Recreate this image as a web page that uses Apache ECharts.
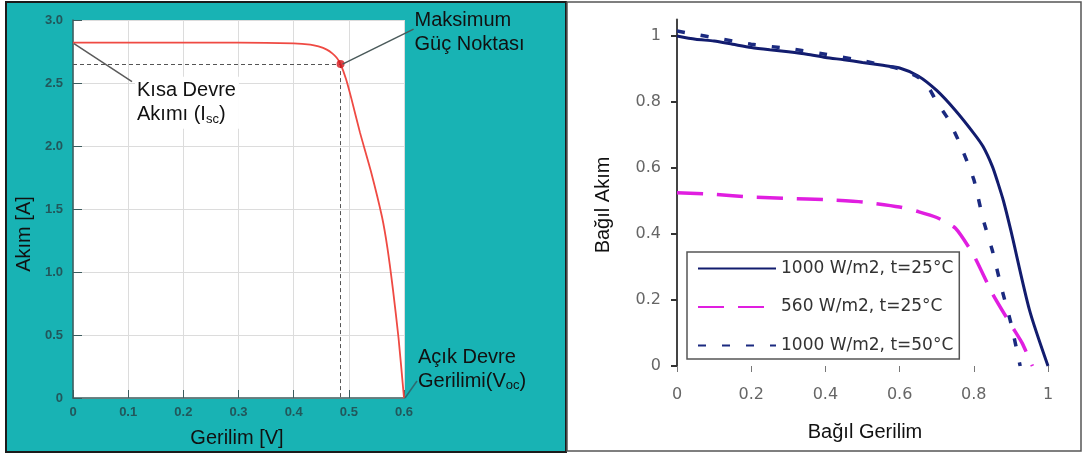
<!DOCTYPE html>
<html>
<head>
<meta charset="utf-8">
<script src="https://cdn.jsdelivr.net/npm/echarts@6/dist/echarts.min.js"></script>
<style>
  html, body { margin: 0; padding: 0; background: #fff; }
  #chart { width: 1083px; height: 455px; }
</style>
</head>
<body>
<div id="chart"></div>
<script>
// left panel: I-V curve of a single cell
const ivVoltage = [0, 0.1, 0.2, 0.3, 0.4, 0.43, 0.445, 0.46, 0.47, 0.478, 0.485, 0.495, 0.505, 0.52, 0.54, 0.56, 0.57, 0.58, 0.59, 0.6];
const ivCurrent = [2.82, 2.82, 2.82, 2.82, 2.815, 2.805, 2.79, 2.765, 2.735, 2.7, 2.65, 2.53, 2.37, 2.11, 1.8, 1.44, 1.19, 0.86, 0.48, 0];
const mppPoint = [0.485, 2.65];
const iscPoint = [0, 2.82];
const vocPoint = [0.6, 0];

// right panel: relative curves
const legendNames = ['1000 W/m2, t=25°C', '560 W/m2, t=25°C', '1000 W/m2, t=50°C'];
const relTicks = [0, 0.2, 0.4, 0.6, 0.8, 1];
const relV_1000_25 = [0, 0.05, 0.1, 0.15, 0.2, 0.25, 0.3, 0.35, 0.4, 0.45, 0.5, 0.55, 0.6, 0.65, 0.7, 0.75, 0.8, 0.825, 0.85, 0.865, 0.88, 0.9, 0.95, 1.0];
const relI_1000_25 = [1.0, 0.99, 0.985, 0.975, 0.965, 0.958, 0.952, 0.945, 0.935, 0.928, 0.92, 0.912, 0.903, 0.879, 0.835, 0.775, 0.705, 0.665, 0.605, 0.555, 0.5, 0.41, 0.17, 0];
const relV_560_25 = [0, 0.1, 0.2, 0.3, 0.4, 0.5, 0.6, 0.65, 0.7, 0.75, 0.8, 0.85, 0.9, 0.93, 0.958];
const relI_560_25 = [0.525, 0.52, 0.512, 0.508, 0.504, 0.497, 0.482, 0.468, 0.45, 0.418, 0.335, 0.22, 0.125, 0.07, 0];
const relV_1000_50 = [0, 0.05, 0.1, 0.15, 0.2, 0.3, 0.4, 0.5, 0.6, 0.65, 0.68, 0.7, 0.73, 0.76, 0.8, 0.825, 0.85, 0.875, 0.9, 0.925];
const relI_1000_50 = [1.015, 1.005, 0.995, 0.985, 0.975, 0.962, 0.945, 0.925, 0.9, 0.875, 0.84, 0.8, 0.75, 0.68, 0.565, 0.445, 0.35, 0.235, 0.13, 0];

function zip(xs, ys) {
  return xs.map((x, i) => [x, ys[i]]);
}

const teal = '#18b3b4';
const tickText = '#22575b';

const chart = echarts.init(document.getElementById('chart'));

const option = {
  animation: false,
  grid: [
    { left: 73, top: 20, width: 331, height: 378, show: true, backgroundColor: '#fff', borderWidth: 0 },
    { left: 677, top: 19.5, width: 371, height: 346.5, show: false }
  ],
  xAxis: [
    {
      gridIndex: 0, type: 'value', min: 0, max: 0.6, interval: 0.1,
      axisLine: { show: true, lineStyle: { color: '#3d5c5e', width: 1.5 } },
      axisTick: { show: true, inside: true, length: 8, lineStyle: { color: '#3d5c5e' } },
      splitLine: { show: true, lineStyle: { color: '#dcdcdc' } },
      axisLabel: {
        margin: 8, color: tickText, fontSize: 13, fontWeight: 'bold', fontFamily: 'Liberation Sans',
        formatter: v => (v === 0 ? '0' : v.toFixed(1))
      }
    },
    {
      gridIndex: 1, type: 'value', min: 0, max: 1, interval: 0.2,
      axisLine: { show: false },
      axisTick: { show: true, length: 6, lineStyle: { color: '#777' } },
      splitLine: { show: false },
      axisLabel: {
        margin: 21, color: '#666', fontSize: 16, fontFamily: 'DejaVu Sans',
        formatter: v => (v === 0 || v === 1 ? String(v) : v.toFixed(1))
      }
    }
  ],
  yAxis: [
    {
      gridIndex: 0, type: 'value', min: 0, max: 3, interval: 0.5,
      axisLine: { show: true, lineStyle: { color: '#3d5c5e', width: 1.5 } },
      axisTick: { show: true, inside: true, length: 9, lineStyle: { color: '#3d5c5e' } },
      splitLine: { show: true, lineStyle: { color: '#dcdcdc' } },
      axisLabel: {
        margin: 10, color: tickText, fontSize: 13, fontWeight: 'bold', fontFamily: 'Liberation Sans',
        formatter: v => (v === 0 ? '0' : v.toFixed(1))
      }
    },
    {
      gridIndex: 1, type: 'value', min: 0, max: 1.05,
      axisLine: { show: true, lineStyle: { color: '#444', width: 2 } },
      axisTick: { show: true, length: 6, customValues: relTicks, lineStyle: { color: '#333', width: 2 } },
      splitLine: { show: false },
      axisLabel: {
        margin: 16, color: '#666', fontSize: 16, fontFamily: 'DejaVu Sans', customValues: relTicks,
        formatter: v => (v === 0 || v === 1 ? String(v) : v.toFixed(1))
      }
    }
  ],
  legend: {
    data: legendNames,
    orient: 'vertical',
    left: 687, top: 252,
    padding: [8, 6, 5, 10],
    itemWidth: 78, itemHeight: 18, itemGap: 21.5,
    backgroundColor: '#fff',
    borderColor: '#555', borderWidth: 1.5, borderRadius: 0,
    itemStyle: { opacity: 0 },
    textStyle: { color: '#333', fontSize: 17, fontFamily: 'DejaVu Sans' },
    selectedMode: false
  },
  series: [
    {
      name: 'iv', type: 'line', xAxisIndex: 0, yAxisIndex: 0,
      data: zip(ivVoltage, ivCurrent), showSymbol: false, smooth: 0.2,
      lineStyle: { color: '#ef4a43', width: 1.8 }, z: 3
    },
    {
      name: 'mpp', type: 'scatter', xAxisIndex: 0, yAxisIndex: 0,
      data: [mppPoint], symbolSize: 8, itemStyle: { color: '#d4161b' }, z: 5,
      markLine: {
        silent: true, symbol: 'none', label: { show: false },
        lineStyle: { color: '#555', type: [4, 3], width: 1 },
        data: [
          [{ coord: [0, mppPoint[1]] }, { coord: mppPoint }],
          [{ coord: mppPoint }, { coord: [mppPoint[0], 0] }]
        ]
      }
    },
    {
      name: legendNames[0], type: 'line', xAxisIndex: 1, yAxisIndex: 1,
      data: zip(relV_1000_25, relI_1000_25), showSymbol: false, smooth: 0.25,
      symbol: 'none', lineStyle: { color: '#121c6e', width: 3 }, itemStyle: { color: '#121c6e' }
    },
    {
      name: legendNames[1], type: 'line', xAxisIndex: 1, yAxisIndex: 1,
      data: zip(relV_560_25, relI_560_25), showSymbol: false, smooth: 0.2,
      symbol: 'none', lineStyle: { color: '#e01ee0', width: 3.5, type: [26, 14] }, itemStyle: { color: '#e01ee0' }
    },
    {
      name: legendNames[2], type: 'line', xAxisIndex: 1, yAxisIndex: 1,
      data: zip(relV_1000_50, relI_1000_50), showSymbol: false, smooth: 0.2,
      symbol: 'none', lineStyle: { color: '#1b2a80', width: 3.5, type: [8, 16] }, itemStyle: { color: '#1b2a80' }
    }
  ]
};

chart.setOption(option);

// annotations anchored on data points
const pIsc = chart.convertToPixel({ gridIndex: 0 }, iscPoint);
const pMpp = chart.convertToPixel({ gridIndex: 0 }, mppPoint);
const pVoc = chart.convertToPixel({ gridIndex: 0 }, vocPoint);

const noteFont = { fontSize: 20, fontFamily: 'Liberation Sans', fill: '#111', lineHeight: 24 };
const subRich = { sub: { fontSize: 13, fontFamily: 'Liberation Sans', fill: '#111', padding: [9, 0, 0, 0] } };
const titleFont = { align: 'center', verticalAlign: 'middle', fontSize: 20, fontFamily: 'Liberation Sans', fill: '#111' };

chart.setOption({
  graphic: [
    // panel backgrounds
    { type: 'rect', z: -10, silent: true, shape: { x: 6, y: 2, width: 560, height: 450 },
      style: { fill: teal, stroke: '#1b1b1b', lineWidth: 2 } },
    { type: 'rect', z: -10, silent: true, shape: { x: 567, y: 2, width: 514, height: 449 },
      style: { fill: '#fff', stroke: '#555', lineWidth: 1.5 } },

    // axis titles
    { type: 'text', x: 237, y: 438, silent: true, style: Object.assign({ text: 'Gerilim [V]' }, titleFont) },
    { type: 'text', x: 24, y: 234, rotation: Math.PI / 2, silent: true, style: Object.assign({ text: 'Akım [A]' }, titleFont) },
    { type: 'text', x: 865, y: 432, silent: true, style: Object.assign({ text: 'Bağıl Gerilim' }, titleFont) },
    { type: 'text', x: 603, y: 205, rotation: Math.PI / 2, silent: true, style: Object.assign({ text: 'Bağıl Akım' }, titleFont) },

    // short-circuit current note
    { type: 'line', z: 10, silent: true,
      shape: { x1: pIsc[0] + 1, y1: pIsc[1] + 1, x2: pIsc[0] + 59, y2: pIsc[1] + 39 },
      style: { stroke: '#5a5a5a', lineWidth: 1.5 } },
    { type: 'text', z: 10, x: pIsc[0] + 62, y: pIsc[1] + 34, silent: true,
      style: Object.assign({ text: 'Kısa Devre\nAkımı (I{sub|sc})', rich: subRich,
        backgroundColor: '#fff', padding: [2, 3, 2, 2] }, noteFont) },

    // maximum power point note
    { type: 'line', z: 10, silent: true,
      shape: { x1: pMpp[0] + 2, y1: pMpp[1], x2: pMpp[0] + 73, y2: pMpp[1] - 35 },
      style: { stroke: '#4a5a5a', lineWidth: 1.5 } },
    { type: 'text', z: 10, x: pMpp[0] + 74, y: pMpp[1] - 56, silent: true,
      style: Object.assign({ text: 'Maksimum\nGüç Noktası' }, noteFont) },

    // open-circuit voltage note
    { type: 'line', z: 10, silent: true,
      shape: { x1: pVoc[0] + 1, y1: pVoc[1], x2: pVoc[0] + 13, y2: pVoc[1] - 17 },
      style: { stroke: '#2e6b70', lineWidth: 1.5 } },
    { type: 'text', z: 10, x: pVoc[0] + 14, y: pVoc[1] - 53, silent: true,
      style: Object.assign({ text: 'Açık Devre\nGerilimi(V{sub|oc})', rich: subRich }, noteFont) }
  ]
});
</script>
</body>
</html>
